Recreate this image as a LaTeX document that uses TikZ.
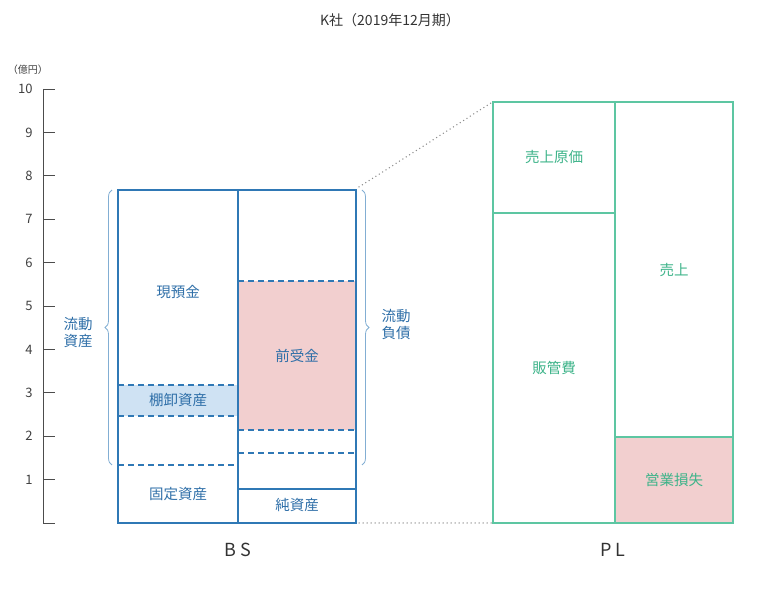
\documentclass[tikz,border=0pt]{standalone}
\usepackage{fontspec}
\setmainfont{Noto Sans CJK JP}
\usetikzlibrary{decorations.pathreplacing}
\definecolor{bsblue}{HTML}{2F78B5}
\definecolor{bstext}{HTML}{2F6FA8}
\definecolor{plgreen}{HTML}{5DC6A2}
\definecolor{pltext}{HTML}{3DB389}
\definecolor{pinkfill}{HTML}{F2CFCF}
\definecolor{bluefill}{HTML}{CFE2F3}
\begin{document}
\begin{tikzpicture}[x=1pt,y=-1pt,
  lbl/.style={font=\fontsize{14.5}{17}\selectfont},
  bst/.style={lbl,text=bstext},
  plt/.style={lbl,text=pltext},
  dsh/.style={bsblue,line width=1.6pt,dash pattern=on 6pt off 4pt},
  ax/.style={font=\fontsize{13}{15}\selectfont,text=black!75}]
\useasboundingbox (0,0) rectangle (780,593);
\node[font=\fontsize{14}{17}\selectfont,text=black!80] (title) at (390,20) {K社（2019年12月期）};
% axis
\node[font=\fontsize{10}{12}\selectfont,text=black!75] (unit) at (28,70) {（億円）};
\draw[black!70,line width=0.8pt] (43,89) -- (43,523) -- (55,523);
\foreach \v in {1,...,10}{
  \pgfmathsetmacro{\yy}{523-43.4*\v}
  \draw[black!70,line width=0.8pt] (43,\yy) -- (55,\yy);
  \node[ax,anchor=east] (t\v) at (36,\yy) {\v};
}
% BS fills
\fill[bluefill] (118,385) rectangle (238,416);
\fill[pinkfill] (238,281) rectangle (356,430);
\draw[dsh] (118,385) -- (238,385);
\draw[dsh] (118,416) -- (238,416);
\draw[dsh] (118,465) -- (238,465);
\draw[dsh] (238,281) -- (356,281);
\draw[dsh] (238,430) -- (356,430);
\draw[dsh] (238,453) -- (356,453);
\draw[bsblue,line width=1.6pt] (238,489) -- (356,489);
\draw[bsblue,line width=2.3pt] (118,190) rectangle (356,523);
\draw[bsblue,line width=2.3pt] (238,190) -- (238,523);
\node[bst] (cash) at (178,292) {現預金};
\node[bst] (inv) at (178,400) {棚卸資産};
\node[bst] (fix) at (178,494) {固定資産};
\node[bst] (adv) at (297,356) {前受金};
\node[bst] (eq) at (297,505) {純資産};
\draw[bsblue!60,line width=0.8pt,decorate,decoration={brace,amplitude=7pt}] (112,465) -- (112,190);
\draw[bsblue!60,line width=0.8pt,decorate,decoration={brace,amplitude=7pt}] (362,190) -- (362,465);
\node[bst,align=center] (ca) at (78,333) {流動\\資産};
\node[bst,align=center] (cl) at (396,325) {流動\\負債};
\node[font=\fontsize{18}{21}\selectfont,text=black!80] (bs) at (238,550) {B S};
% PL
\fill[pinkfill] (615,437) rectangle (733,523);
\draw[plgreen,line width=2.3pt] (493,102) rectangle (733,523);
\draw[plgreen,line width=2.3pt] (615,102) -- (615,523);
\draw[plgreen,line width=2.3pt] (493,213) -- (615,213);
\draw[plgreen,line width=2.3pt] (615,437) -- (733,437);
\node[plt] (cogs) at (554,157) {売上原価};
\node[plt] (sga) at (554,368) {販管費};
\node[plt] (sales) at (674,270) {売上};
\node[plt] (loss) at (674,480) {営業損失};
\node[font=\fontsize{18}{21}\selectfont,text=black!80] (pl) at (613,550) {P L};
\draw[black!45,line width=1.5pt,line cap=round,dash pattern=on 0pt off 4pt] (359,187) -- (491,103);
\draw[black!45,line width=1.5pt,line cap=round,dash pattern=on 0pt off 4pt] (359,523) -- (491,523);
\end{tikzpicture}
\end{document}
